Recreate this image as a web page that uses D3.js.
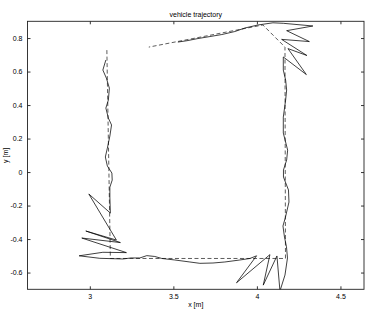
<!DOCTYPE html>
<html>
<head>
<meta charset="utf-8">
<script src="https://cdn.jsdelivr.net/npm/d3@7"></script>
<style>
  html, body { margin: 0; padding: 0; background: #fff; }
  svg text { font-family: "Liberation Sans", Arial, Helvetica, sans-serif; fill: #000; }
</style>
</head>
<body>
<svg id="chart" width="372" height="314"></svg>
<script>
// ---- data ----
const titleText = "vehicle trajectory";
const xLabelText = "x [m]";
const yLabelText = "y [m]";
const xDomain = [2.627, 4.641];
const yDomain = [-0.7, 0.9];
const xTicks = [3, 3.5, 4, 4.5];
const yTicks = [-0.6, -0.4, -0.2, 0, 0.2, 0.4, 0.6, 0.8];

// reference path (dashed)
const refX = [3.102, 3.123, 4.171, 4.168, 4.036, 3.353];
const refY = [0.728, -0.516, -0.516, 0.746, 0.878, 0.746];

// actual vehicle trajectory (solid)
const trajX = [3.096, 3.078, 3.099, 3.117, 3.111, 3.096, 3.111, 3.130, 3.120, 3.105,
  3.093, 3.105, 3.132, 3.134, 3.120, 3.120, 3.123, 2.994, 3.159, 2.976,
  3.183, 2.952, 3.219, 3.078, 2.936, 3.060, 3.198, 3.246, 3.299, 3.341,
  3.389, 3.431, 3.509, 3.599, 3.659, 3.737, 3.808, 3.898, 3.958, 3.998,
  3.878, 4.078, 4.038, 4.120, 4.138, 4.168, 4.183, 4.177, 4.165, 4.156,
  4.171, 4.192, 4.189, 4.159, 4.159, 4.178, 4.184, 4.158, 4.158, 4.172,
  4.178, 4.172, 4.158, 4.158, 4.296, 4.186, 4.299, 4.148, 4.314, 4.178,
  4.335, 4.158, 4.096, 4.006, 3.928, 3.868, 3.790, 3.719, 3.647, 3.581, 3.527];
const trajY = [0.669, 0.609, 0.561, 0.501, 0.430, 0.382, 0.322, 0.281, 0.215, 0.143,
  0.090, 0.036, -0.006, -0.048, -0.090, -0.149, -0.245, -0.131, -0.406, -0.352,
  -0.421, -0.394, -0.481, -0.479, -0.500, -0.515, -0.519, -0.513, -0.513, -0.499,
  -0.504, -0.516, -0.525, -0.537, -0.545, -0.543, -0.537, -0.525, -0.516, -0.500,
  -0.661, -0.493, -0.675, -0.501, -0.710, -0.615, -0.513, -0.446, -0.388, -0.322,
  -0.269, -0.179, -0.107, -0.030, 0.012, 0.072, 0.131, 0.233, 0.328, 0.430,
  0.490, 0.549, 0.609, 0.687, 0.582, 0.737, 0.696, 0.792, 0.779, 0.844,
  0.872, 0.888, 0.891, 0.878, 0.860, 0.839, 0.821, 0.809, 0.797, 0.784, 0.776];

// ---- layout ----
const W = 372, H = 314;
const margin = { left: 27.5, right: 8, top: 21.3, bottom: 24.7 };
const pw = W - margin.left - margin.right;
const ph = H - margin.top - margin.bottom;

const svg = d3.select("#chart");
const g = svg.append("g").attr("transform", `translate(${margin.left},${margin.top})`);

const x = d3.scaleLinear().domain(xDomain).range([0, pw]);
const y = d3.scaleLinear().domain(yDomain).range([ph, 0]);

svg.append("defs").append("clipPath").attr("id", "clip")
  .append("rect").attr("width", pw).attr("height", ph);

const fmt = d => (d === 0 ? "0" : String(d));
const tickLen = 3;

function styleAxis(sel) {
  sel.select(".domain").remove();
  sel.selectAll(".tick line").attr("stroke", "#000").attr("stroke-width", 0.8);
  sel.selectAll(".tick text").style("font-size", "7px");
}

// bottom
g.append("g").attr("transform", `translate(0,${ph})`)
  .call(d3.axisBottom(x).tickValues(xTicks).tickFormat(fmt).tickSizeInner(-tickLen).tickSizeOuter(0).tickPadding(5))
  .call(styleAxis);
// top
g.append("g")
  .call(d3.axisTop(x).tickValues(xTicks).tickFormat("").tickSizeInner(-tickLen).tickSizeOuter(0))
  .call(styleAxis);
// left
g.append("g")
  .call(d3.axisLeft(y).tickValues(yTicks).tickFormat(fmt).tickSizeInner(-tickLen).tickSizeOuter(0).tickPadding(5))
  .call(styleAxis);
// right
g.append("g").attr("transform", `translate(${pw},0)`)
  .call(d3.axisRight(y).tickValues(yTicks).tickFormat("").tickSizeInner(-tickLen).tickSizeOuter(0))
  .call(styleAxis);

// box
g.append("rect").attr("width", pw).attr("height", ph)
  .attr("fill", "none").attr("stroke", "#222").attr("stroke-width", 0.9);

const line = d3.line().x(d => x(d[0])).y(d => y(d[1]));
const plot = g.append("g").attr("clip-path", "url(#clip)");

plot.append("path")
  .datum(refX.map((v, i) => [v, refY[i]]))
  .attr("d", line).attr("fill", "none")
  .attr("stroke", "#333").attr("stroke-width", 0.8)
  .attr("stroke-dasharray", "4,2.5");

plot.append("path")
  .datum(trajX.map((v, i) => [v, trajY[i]]))
  .attr("d", line).attr("fill", "none")
  .attr("stroke", "#000").attr("stroke-width", 0.75)
  .attr("stroke-linejoin", "miter");

// title and labels
svg.append("text").attr("x", margin.left + pw / 2).attr("y", 17)
  .attr("text-anchor", "middle").style("font-size", "7px").text(titleText);
svg.append("text").attr("x", margin.left + pw / 2).attr("y", 307)
  .attr("text-anchor", "middle").style("font-size", "7px").text(xLabelText);
svg.append("text").attr("transform", `translate(8,${margin.top + ph / 2}) rotate(-90)`)
  .attr("text-anchor", "middle").style("font-size", "7px").text(yLabelText);
</script>
</body>
</html>
